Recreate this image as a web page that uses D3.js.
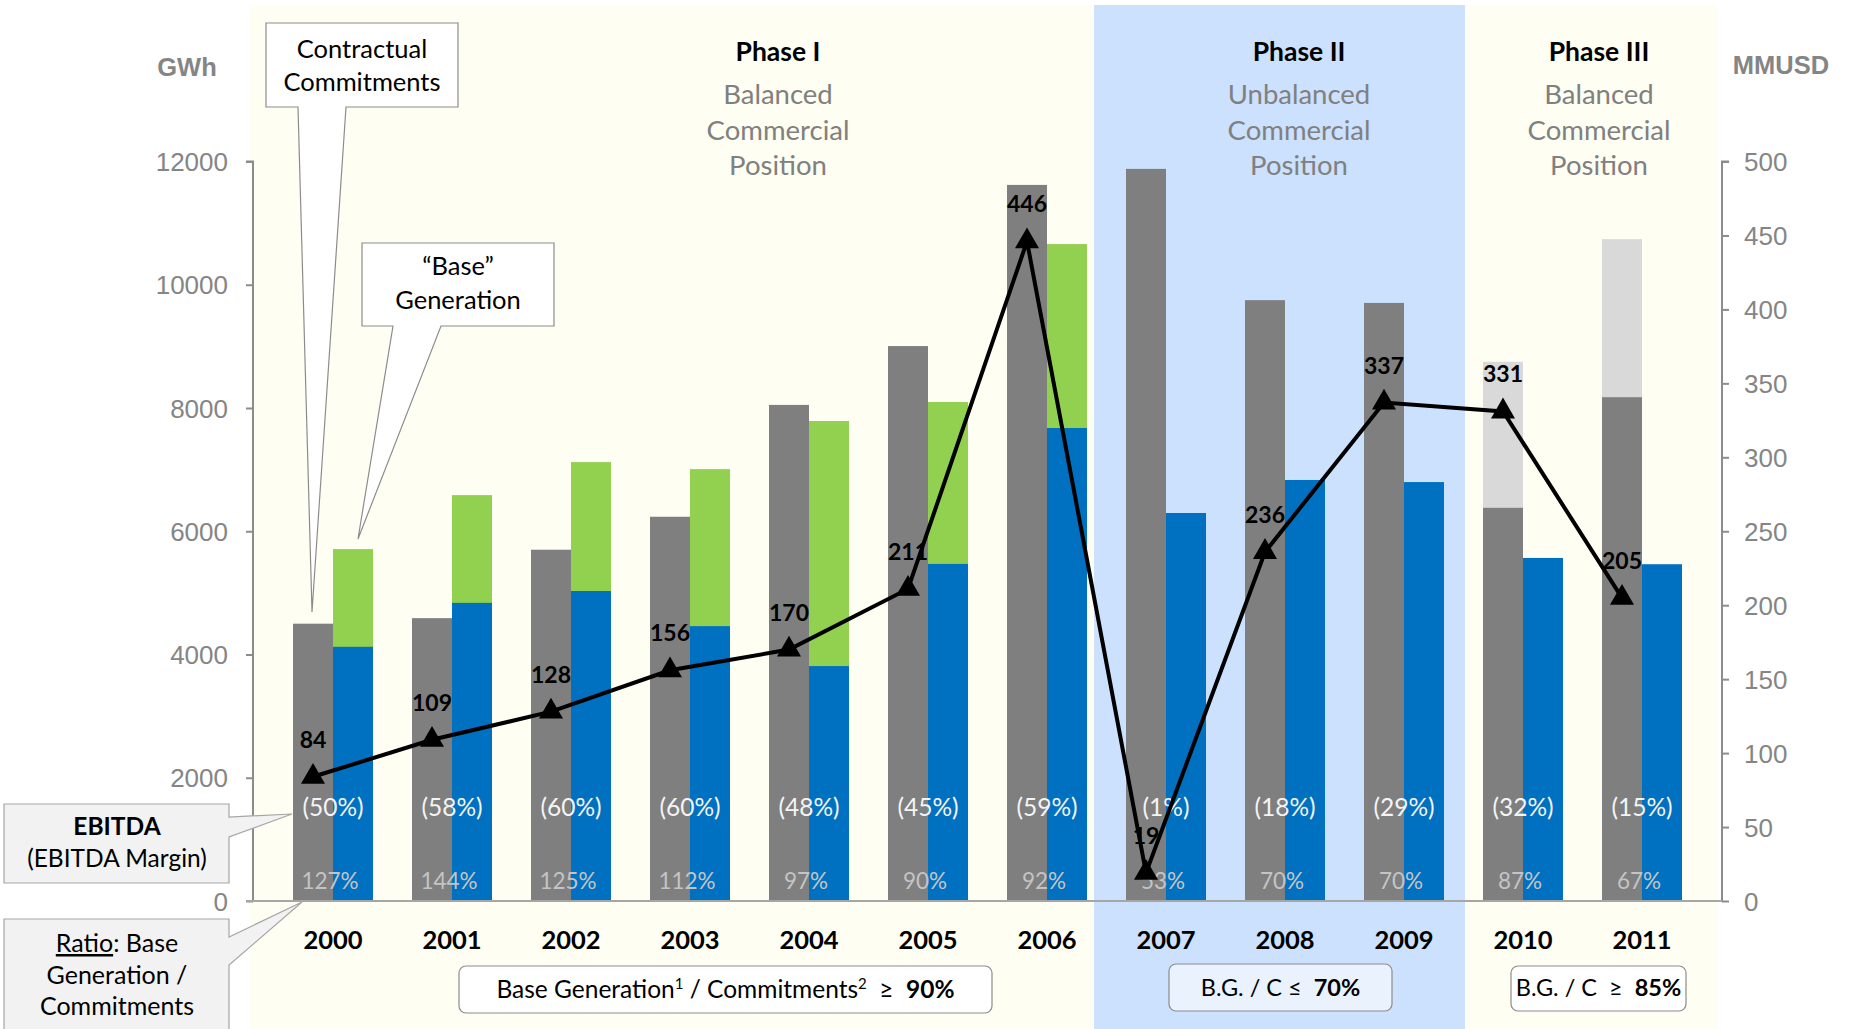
<!DOCTYPE html>
<html>
<head>
<meta charset="utf-8">
<script src="https://cdn.jsdelivr.net/npm/d3@7"></script>
<style>
  html, body { margin: 0; padding: 0; background: #ffffff; }
  svg { display: block; }
  .cal { font-family: Lato, "Open Sans", sans-serif; }
  .ari { font-family: "Liberation Sans", Arial, sans-serif; }
</style>
</head>
<body>
<svg id="chart" width="1849" height="1029"></svg>
<script>
// ---------------- DATA ----------------
const years = ["2000","2001","2002","2003","2004","2005","2006","2007","2008","2009","2010","2011"];
// Contractual commitments (GWh) - dark gray bars
const commitments = [4500, 4590, 5700, 6235, 8050, 9005, 11620, 11880, 9750, 9705, 6380, 8175];
// Projected commitments total (GWh) - light gray top for 2010/2011
const commitmentsProjected = [null, null, null, null, null, null, null, null, null, null, 8750, 10740];
// "Base" generation (GWh) - blue part
const baseGenBlue = [4125, 4838, 5030, 4460, 3812, 5470, 7675, 6296, 6832, 6798, 5567, 5465];
// "Base" generation total incl. green part (GWh)
const baseGenTotal = [5710, 6586, 7122, 7008, 7789, 8097, 10660, null, null, null, null, null];
// EBITDA (MMUSD)
const ebitda = [84, 109, 128, 156, 170, 211, 446, 19, 236, 337, 331, 205];
const ebitdaMargin = ["(50%)","(58%)","(60%)","(60%)","(48%)","(45%)","(59%)","(1%)","(18%)","(29%)","(32%)","(15%)"];
const ratioLabels = ["127%","144%","125%","112%","97%","90%","92%","53%","70%","70%","87%","67%"];
const gwhTicks = [0, 2000, 4000, 6000, 8000, 10000, 12000];
const usdTicks = [0, 50, 100, 150, 200, 250, 300, 350, 400, 450, 500];
const phases = [
  {title: "Phase I",   sub: ["Balanced","Commercial","Position"],   from: "2000", to: "2006"},
  {title: "Phase II",  sub: ["Unbalanced","Commercial","Position"], from: "2007", to: "2009"},
  {title: "Phase III", sub: ["Balanced","Commercial","Position"],   from: "2010", to: "2011"}
];

// ---------------- COLORS ----------------
const C = {
  gray: "#7F7F7F", light: "#D9D9D9", blue: "#0070C0", green: "#92D050",
  yellowBg: "#FEFEF2", blueBg: "#CCE1FD", axis: "#8C8C8C", axisText: "#858585"
};

const svg = d3.select("#chart");

// ---------------- SCALES ----------------
const x = d3.scalePoint().domain(years).range([333, 1642]);
const barW = 40;
const yL = d3.scaleLinear().domain([0, 12000]).range([901, 161.5]);
const yR = d3.scaleLinear().domain([0, 500]).range([901, 161.5]);
const axisLeftX = 253, axisRightX = 1722;

// ---------------- BACKGROUNDS ----------------
svg.append("rect").attr("x", 249).attr("y", 5).attr("width", 1718 - 249).attr("height", 1029 - 5).attr("fill", C.yellowBg);
svg.append("rect").attr("x", 1094).attr("y", 5).attr("width", 1465 - 1094).attr("height", 1029 - 5).attr("fill", C.blueBg);

// ---------------- BARS ----------------
const g = svg.append("g");
g.selectAll(".proj").data(years.filter((d,i) => commitmentsProjected[i] != null)).enter()
  .append("rect")
  .attr("x", d => x(d) - barW)
  .attr("y", d => yL(commitmentsProjected[years.indexOf(d)]))
  .attr("width", barW)
  .attr("height", d => yL(0) - yL(commitmentsProjected[years.indexOf(d)]))
  .attr("fill", C.light);
g.selectAll(".com").data(years).enter().append("rect")
  .attr("x", d => x(d) - barW)
  .attr("y", (d,i) => yL(commitments[i]))
  .attr("width", barW)
  .attr("height", (d,i) => yL(0) - yL(commitments[i]))
  .attr("fill", C.gray);
g.selectAll(".grn").data(years.filter((d,i) => baseGenTotal[i] != null)).enter().append("rect")
  .attr("x", d => x(d))
  .attr("y", d => yL(baseGenTotal[years.indexOf(d)]))
  .attr("width", barW)
  .attr("height", d => yL(0) - yL(baseGenTotal[years.indexOf(d)]))
  .attr("fill", C.green);
g.selectAll(".blu").data(years).enter().append("rect")
  .attr("x", d => x(d))
  .attr("y", (d,i) => yL(baseGenBlue[i]))
  .attr("width", barW)
  .attr("height", (d,i) => yL(0) - yL(baseGenBlue[i]))
  .attr("fill", C.blue);

// ---------------- AXES ----------------
const axL = d3.axisLeft(yL).tickValues(gwhTicks).tickSize(7).tickPadding(18).tickFormat(d3.format("d"));
const gL = svg.append("g").attr("transform", `translate(${axisLeftX},0)`).call(axL);
gL.select(".domain").attr("stroke", C.axis).attr("stroke-width", 2).attr("d", `M-7,${yL(12000)}H0V${yL(0)}`);
gL.selectAll(".tick line").attr("stroke", C.axis).attr("stroke-width", 2);
gL.selectAll(".tick text").attr("class", "ari").attr("font-size", 26).attr("fill", C.axisText).attr("dy", "0.35em");

const axR = d3.axisRight(yR).tickValues(usdTicks).tickSize(7).tickPadding(15);
const gR = svg.append("g").attr("transform", `translate(${axisRightX},0)`).call(axR);
gR.select(".domain").attr("stroke", C.axis).attr("stroke-width", 2).attr("d", `M7,${yR(500)}H0V${yR(0)}`);
gR.selectAll(".tick line").attr("stroke", C.axis).attr("stroke-width", 2);
gR.selectAll(".tick text").attr("class", "ari").attr("font-size", 26).attr("fill", C.axisText).attr("dy", "0.35em");

svg.append("line").attr("x1", 246).attr("x2", axisRightX).attr("y1", yL(0)).attr("y2", yL(0))
  .attr("stroke", "#A6A6A6").attr("stroke-width", 2);

svg.append("text").attr("class","ari").attr("x", 187).attr("y", 76).attr("text-anchor","middle")
  .attr("font-size", 25.5).attr("font-weight","bold").attr("fill", C.axisText).text("GWh");
svg.append("text").attr("class","ari").attr("x", 1781).attr("y", 74).attr("text-anchor","middle")
  .attr("font-size", 25.5).attr("font-weight","bold").attr("fill", C.axisText).text("MMUSD");

// ---------------- IN-BAR LABELS ----------------
svg.selectAll(".mg").data(years).enter().append("text").attr("class","cal")
  .attr("x", d => x(d)).attr("y", 816).attr("text-anchor","middle")
  .attr("font-size", 24.5).attr("fill", "#F4F4F4").text((d,i) => ebitdaMargin[i]);
svg.selectAll(".rt").data(years).enter().append("text").attr("class","cal")
  .attr("x", d => x(d) - 3).attr("y", 889).attr("text-anchor","middle")
  .attr("font-size", 22.5).attr("fill", "#C4C4C4").text((d,i) => ratioLabels[i]);

svg.selectAll(".yr").data(years).enter().append("text").attr("class","cal")
  .attr("x", d => x(d)).attr("y", 949).attr("text-anchor","middle")
  .attr("font-size", 25.5).attr("font-weight","bold").attr("fill", "#000").text(d => d);

// ---------------- EBITDA LINE ----------------
const lx = (d) => x(d) - barW / 2;
const line = d3.line().x((d,i) => lx(years[i])).y(d => yR(d));
svg.append("path").datum(ebitda).attr("d", line).attr("fill","none").attr("stroke","#000")
  .attr("stroke-width", 4).attr("stroke-linejoin","miter");
const tri = d3.symbol().type(d3.symbolTriangle).size(250);
svg.selectAll(".mk").data(ebitda).enter().append("path")
  .attr("d", tri).attr("transform", (d,i) => `translate(${lx(years[i])},${yR(d)})`).attr("fill","#000");
svg.selectAll(".el").data(ebitda).enter().append("text").attr("class","cal")
  .attr("x", (d,i) => lx(years[i])).attr("y", d => yR(d) - 29).attr("text-anchor","middle")
  .attr("font-size", 23).attr("font-weight","bold").attr("fill","#000").text(d => d);

// ---------------- PHASE TITLES ----------------
phases.forEach((p, k) => {
  const cx = k === 0 ? 778 : k === 1 ? 1299 : 1599;
  svg.append("text").attr("class","cal").attr("x", cx).attr("y", 61).attr("text-anchor","middle")
    .attr("font-size", 26.5).attr("font-weight","bold").attr("fill","#000").text(p.title);
  p.sub.forEach((s, j) => {
    svg.append("text").attr("class","cal").attr("x", cx).attr("y", 104 + j * 35.5).attr("text-anchor","middle")
      .attr("font-size", 27.5).attr("fill","#808080").text(s);
  });
});

// ---------------- BOTTOM CONDITION BOXES ----------------
function condBox(x0, x1, y0, y1, fill, size, parts) {
  svg.append("rect").attr("x", x0).attr("y", y0).attr("width", x1 - x0).attr("height", y1 - y0)
    .attr("rx", 7).attr("fill", fill).attr("stroke", "#8C8C8C").attr("stroke-width", 1.2);
  const t = svg.append("text").attr("class","cal").attr("x", (x0 + x1) / 2).attr("y", y1 - 15)
    .attr("text-anchor","middle").attr("font-size", size).attr("fill","#000").attr("xml:space","preserve");
  parts.forEach(p => {
    const ts = t.append("tspan").text(p.t);
    if (p.b) ts.attr("font-weight","bold");
    if (p.sup) ts.attr("font-size", 15).attr("baseline-shift", "super");
  });
}
condBox(459, 992, 966, 1013, "#FFFFFF", 24.5, [
  {t: "Base Generation"}, {t: "1", sup: true}, {t: " / Commitments"}, {t: "2", sup: true}, {t: "  ≥  "}, {t: "90%", b: true}
]);
condBox(1169, 1392, 964, 1011, "#EAF2FE", 23.5, [{t: "B.G. / C ≤  "}, {t: "70%", b: true}]);
condBox(1511, 1686, 966, 1011, "#FFFFFF", 23.5, [{t: "B.G. / C  ≥  "}, {t: "85%", b: true}]);

// ---------------- CALLOUTS ----------------
function calloutDown(x0, x1, y0, y1, p1, p2, tip, fill) {
  svg.append("path").attr("d",
    `M${x0},${y0}H${x1}V${y1}H${p2}L${tip[0]},${tip[1]}L${p1},${y1}H${x0}Z`)
    .attr("fill", fill).attr("stroke", "#8C8C8C").attr("stroke-width", 1.2);
}
function calloutRight(x0, x1, y0, y1, p1, p2, tip, fill) {
  svg.append("path").attr("d",
    `M${x0},${y0}H${x1}V${p1}L${tip[0]},${tip[1]}L${x1},${p2}V${y1}H${x0}Z`)
    .attr("fill", fill).attr("stroke", "#A6A6A6").attr("stroke-width", 1.2);
}
calloutDown(266, 458, 23, 107, 298, 346, [312, 612], "#FFFFFF");
calloutDown(362, 554, 243, 326, 393, 441, [358, 539], "#FFFFFF");
calloutRight(4, 229, 804, 883, 817, 837, [292, 814], "#F2F2F2");
calloutRight(4, 229, 919, 1045, 937, 965, [302, 902], "#F2F2F2");

function lines(cx, ys, arr, size) {
  arr.forEach((s, i) => {
    const t = svg.append("text").attr("class","cal").attr("x", cx).attr("y", ys[i]).attr("text-anchor","middle")
      .attr("font-size", size).attr("fill","#000");
    if (typeof s === "string") t.text(s);
    else s.forEach(p => {
      const ts = t.append("tspan").text(p.t);
      if (p.b) ts.attr("font-weight","bold");
      if (p.u) ts.attr("text-decoration","underline");
    });
  });
}
lines(362, [58, 91], ["Contractual", "Commitments"], 25.5);
lines(458, [275, 309], ["“Base”", "Generation"], 25.5);
lines(117, [835, 867], [[{t:"EBITDA", b:true}], "(EBITDA Margin)"], 24.5);
lines(117, [952, 984, 1015], [[{t:"Ratio", u:true}, {t:": Base"}], "Generation /", "Commitments"], 25);
</script>
</body>
</html>
